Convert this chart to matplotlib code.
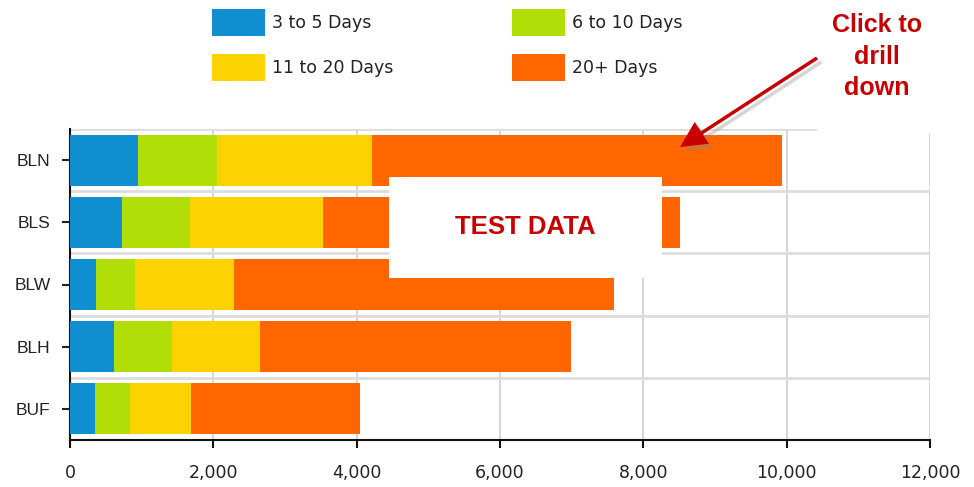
import numpy as np
import matplotlib
matplotlib.use("Agg")
import matplotlib.pyplot as plt
from matplotlib.patches import Rectangle, FancyArrow
from matplotlib import patheffects as pe
from matplotlib.ticker import FuncFormatter

# data: stacked segment values per region
regions = ["BLN", "BLS", "BLW", "BLH", "BUF"]
series = ["3 to 5 Days", "6 to 10 Days", "11 to 20 Days", "20+ Days"]
colors = ["#108FD0", "#B2DE08", "#FCD200", "#FF6600"]
days_3_5 = [950, 726, 363, 614, 349]
days_6_10 = [1100, 944, 544, 809, 488]
days_11_20 = [2170, 1860, 1386, 1233, 851]
days_20_plus = [5710, 4980, 5302, 4330, 2358]
xticks = [0, 2000, 4000, 6000, 8000, 10000, 12000]

W, H = 974, 487
fig = plt.figure(figsize=(W / 100, H / 100), dpi=100)
ax = fig.add_axes([70 / W, 47 / H, 860 / W, 311 / H])

y = np.arange(len(regions))
left = np.zeros(len(regions))
for name, vals, col in zip(series, [days_3_5, days_6_10, days_11_20, days_20_plus], colors):
    ax.barh(y, vals, left=left, height=0.82, color=col, edgecolor="none", zorder=3)
    left += np.array(vals)

ax.set_ylim(len(regions) - 0.5, -0.5)
ax.set_xlim(0, 12000)
ax.set_yticks(y)
ax.set_yticklabels(regions, fontfamily="Liberation Sans", fontsize=12.5, color="#222222")
ax.set_xticks(xticks)
ax.xaxis.set_major_formatter(FuncFormatter(lambda v, p: f"{int(v):,}"))
for lab in ax.get_xticklabels():
    lab.set_fontfamily("DejaVu Sans")
    lab.set_fontsize(12.5)
    lab.set_color("#222222")
ax.tick_params(axis="y", length=6, width=1.5, pad=8, color="#222222")
ax.tick_params(axis="x", length=6, width=1.5, pad=11, color="#111111")

# grid: vertical at ticks, horizontal between bands
for xv in xticks[1:]:
    ax.axvline(xv, color="#D0D0D0", lw=1.2, zorder=1)
for yb in np.arange(0.5, len(regions) - 0.5, 1):
    ax.axhline(yb, color="#DDDDDD", lw=2, zorder=1)
ax.axhline(-0.5, color="#DDDDDD", lw=2, zorder=1)

for s in ["top", "right"]:
    ax.spines[s].set_visible(False)
for s in ["left", "bottom"]:
    ax.spines[s].set_linewidth(1.5)
    ax.spines[s].set_color("#111111")

# overlay in pixel coordinates for legend and annotations
ov = fig.add_axes([0, 0, 1, 1], zorder=10)
ov.set_xlim(0, W)
ov.set_ylim(H, 0)
ov.axis("off")
ov.patch.set_alpha(0)

# legend, 2 x 2
leg_x = [212, 512]
leg_y = [9, 54]
for i, (name, col) in enumerate(zip(series, colors)):
    cx = leg_x[i % 2]
    cy = leg_y[i // 2]
    ov.add_patch(Rectangle((cx, cy), 53, 27, facecolor=col, edgecolor="none"))
    ov.text(cx + 60, cy + 14, name, ha="left", va="center", fontfamily="DejaVu Sans",
            fontsize=12.5, color="#222222")

# white cover at top right
ov.add_patch(Rectangle((817, 0), W - 817, 133, facecolor="white", edgecolor="none"))

# TEST DATA box
ov.add_patch(Rectangle((389, 177), 273, 101, facecolor="white", edgecolor="none"))
ov.text(525, 227, "TEST DATA", ha="center", va="center", color="#C80000",
        fontfamily="Liberation Sans", fontweight="bold", fontsize=18.5)

# drill-down hint
for line, base in zip(["Click to", "drill", "down"], [32, 64, 95]):
    ov.text(877, base, line, ha="center", va="baseline", color="#C80000",
            fontfamily="Liberation Sans", fontweight="bold", fontsize=18)

x0, y0, x1, y1 = 817, 58, 680, 147
arrow = FancyArrow(x0, y0, x1 - x0, y1 - y0, width=3.5, head_width=26, head_length=26,
                   length_includes_head=True, facecolor="#C80000", edgecolor="none")
arrow.set_path_effects([pe.SimplePatchShadow(offset=(3, -3), shadow_rgbFace="#888888", alpha=0.35),
                        pe.Normal()])
ov.add_patch(arrow)

fig.savefig("out.png", dpi=100)
